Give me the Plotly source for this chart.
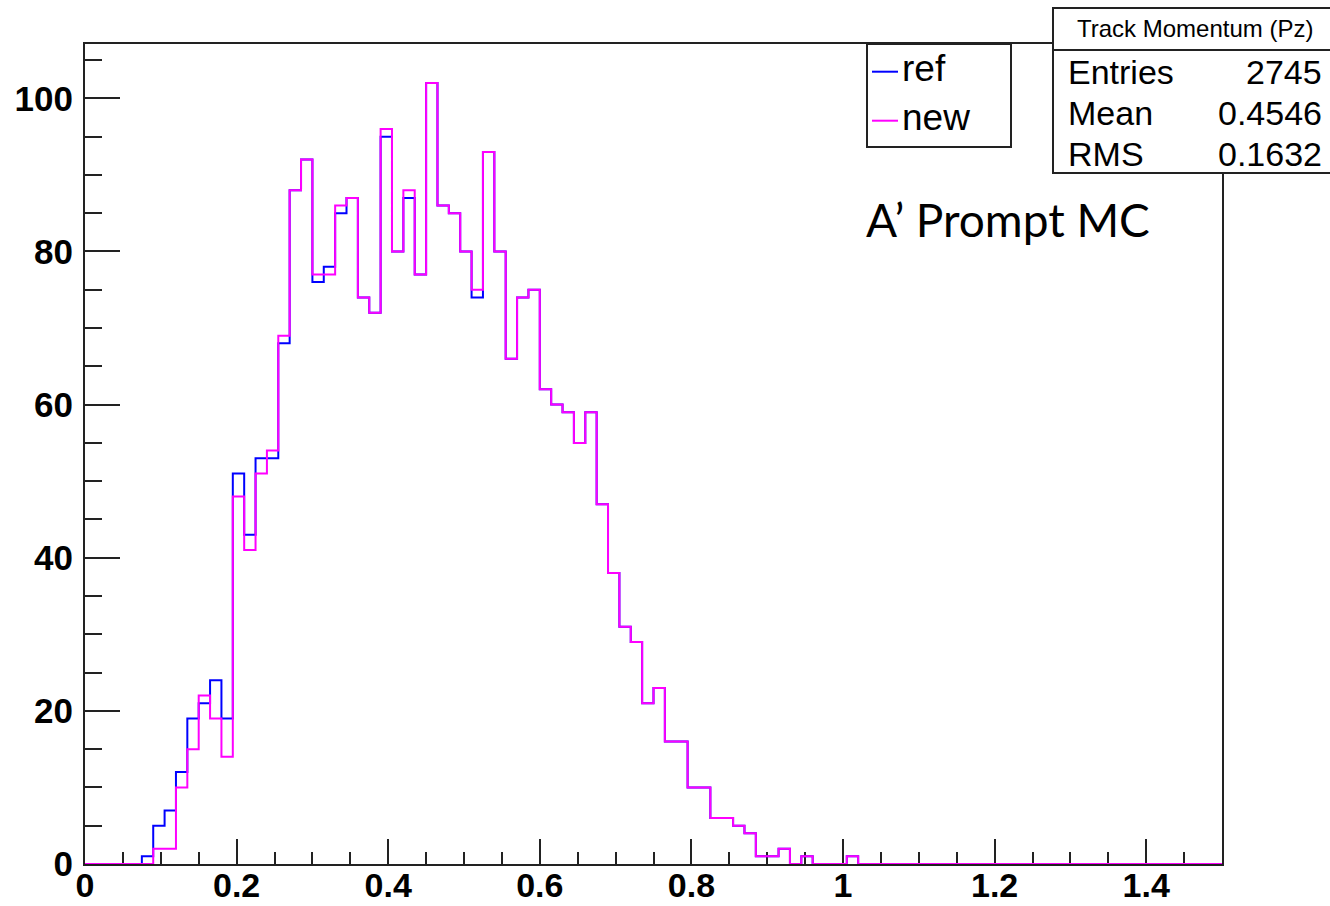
import plotly.graph_objects as go

# ---- data ----
bin_low = 0.0
bin_width = 0.015
n_bins = 100

ref_counts = [
    0, 0, 0, 0, 0, 1, 5, 7, 12, 19,
    21, 24, 19, 51, 43, 53, 53, 68, 88, 92,
    76, 78, 85, 87, 74, 72, 95, 80, 87, 77,
    102, 86, 85, 80, 74, 93, 80, 66, 74, 75,
    62, 60, 59, 55, 59, 47, 38, 31, 29, 21,
    23, 16, 16, 10, 10, 6, 6, 5, 4, 1,
    1, 2, 0, 1, 0, 0, 0, 1, 0, 0,
    0, 0, 0, 0, 0, 0, 0, 0, 0, 0,
    0, 0, 0, 0, 0, 0, 0, 0, 0, 0,
    0, 0, 0, 0, 0, 0, 0, 0, 0, 0,
]
new_counts = [
    0, 0, 0, 0, 0, 0, 2, 2, 10, 15,
    22, 19, 14, 48, 41, 51, 54, 69, 88, 92,
    77, 77, 86, 87, 74, 72, 96, 80, 88, 77,
    102, 86, 85, 80, 75, 93, 80, 66, 74, 75,
    62, 60, 59, 55, 59, 47, 38, 31, 29, 21,
    23, 16, 16, 10, 10, 6, 6, 5, 4, 1,
    1, 2, 0, 1, 0, 0, 0, 1, 0, 0,
    0, 0, 0, 0, 0, 0, 0, 0, 0, 0,
    0, 0, 0, 0, 0, 0, 0, 0, 0, 0,
    0, 0, 0, 0, 0, 0, 0, 0, 0, 0,
]
series_names = ["ref", "new"]
series_colors = ["#0000ff", "#ff00ff"]

stats_title = "Track Momentum (Pz)"
stats_labels = ["Entries", "Mean", "RMS"]
stats_values = ["2745", "0.4546", "0.1632"]
note_text = "A\u2019 Prompt MC"

x_range = [0, 1.5]
y_range = [0, 1.05 * max(max(ref_counts), max(new_counts))]

# ---- figure ----
W, H = 1330, 906
L, R, T, B = 85, 1222, 44, 864

def px(x):
    return (x - L) / (R - L)

def py(y):
    return (B - y) / (B - T)

edges = [bin_low + i * bin_width for i in range(n_bins + 1)]

fig = go.Figure()
for counts, name, col in zip([ref_counts, new_counts], series_names, series_colors):
    fig.add_trace(go.Scatter(
        x=edges, y=counts + [counts[-1]], mode="lines", line_shape="hv",
        line=dict(color=col, width=2), name=name, showlegend=False,
        cliponaxis=False,
    ))

axis_common = dict(
    showline=True, mirror=True, linecolor="#222222", linewidth=2,
    ticks="inside", tickcolor="#222222", tickwidth=2,
    showgrid=False, zeroline=False, layer="below traces", automargin=False,
)
fig.update_xaxes(range=x_range, dtick=0.2, tick0=0, ticklen=25,
                 minor=dict(dtick=0.05, tick0=0, ticks="inside", ticklen=12,
                            tickcolor="#222222", tickwidth=2),
                 tickformat="~g", ticklabelstandoff=-10,
                 tickfont=dict(family="Liberation Sans, Arial", size=34, color="black", weight="bold"),
                 **axis_common)
fig.update_yaxes(range=y_range, dtick=20, tick0=0, ticklen=35,
                 minor=dict(dtick=5, tick0=0, ticks="inside", ticklen=17,
                            tickcolor="#222222", tickwidth=2),
                 ticklabelstandoff=3,
                 tickfont=dict(family="Liberation Sans, Arial", size=35, color="black", weight="bold"),
                 **axis_common)

shapes = []
annotations = []

# legend box
shapes.append(dict(type="rect", xref="paper", yref="paper",
                   x0=px(867), x1=px(1011), y0=py(147), y1=py(44),
                   line=dict(color="#222222", width=2), fillcolor="white", layer="above"))
leg_y = [71.7, 120.7]
for name, col, yy in zip(series_names, series_colors, leg_y):
    shapes.append(dict(type="line", xref="paper", yref="paper",
                       x0=px(872), x1=px(898), y0=py(yy), y1=py(yy),
                       line=dict(color=col, width=2), layer="above"))
    annotations.append(dict(xref="paper", yref="paper", x=px(900), y=py(yy - 3),
                            text=name, showarrow=False, xanchor="left", yanchor="middle",
                            font=dict(family="Liberation Sans, Arial", size=37, color="black")))

# stats box
shapes.append(dict(type="rect", xref="paper", yref="paper",
                   x0=px(1053), x1=px(1345), y0=py(173), y1=py(8),
                   line=dict(color="#222222", width=2), fillcolor="white", layer="above"))
shapes.append(dict(type="line", xref="paper", yref="paper",
                   x0=px(1053), x1=px(1345), y0=py(50), y1=py(50),
                   line=dict(color="#222222", width=2), layer="above"))
annotations.append(dict(xref="paper", yref="paper", x=px(1195), y=py(29),
                        text=stats_title, showarrow=False, xanchor="center", yanchor="middle",
                        font=dict(family="Liberation Sans, Arial", size=24, color="black")))
row_y = [72, 113, 154]
for lab, val, yy in zip(stats_labels, stats_values, row_y):
    annotations.append(dict(xref="paper", yref="paper", x=px(1066), y=py(yy),
                            text=lab, showarrow=False, xanchor="left", yanchor="middle",
                            font=dict(family="Liberation Sans, Arial", size=34, color="black")))
    annotations.append(dict(xref="paper", yref="paper", x=px(1324), y=py(yy),
                            text=val, showarrow=False, xanchor="right", yanchor="middle",
                            font=dict(family="Liberation Sans, Arial", size=34, color="black")))

# note text
annotations.append(dict(xref="paper", yref="paper", x=px(864), y=py(220),
                        text=note_text, showarrow=False, xanchor="left", yanchor="middle",
                        font=dict(family="Lato", size=46, color="black")))

fig.update_layout(
    width=W, height=H,
    margin=dict(l=L, r=W - R, t=T, b=H - B, pad=0),
    paper_bgcolor="white", plot_bgcolor="white",
    shapes=shapes, annotations=annotations, showlegend=False,
)

fig.write_html("out.html", config={"displayModeBar": False},
               post_script="document.body.style.margin='0px';")
